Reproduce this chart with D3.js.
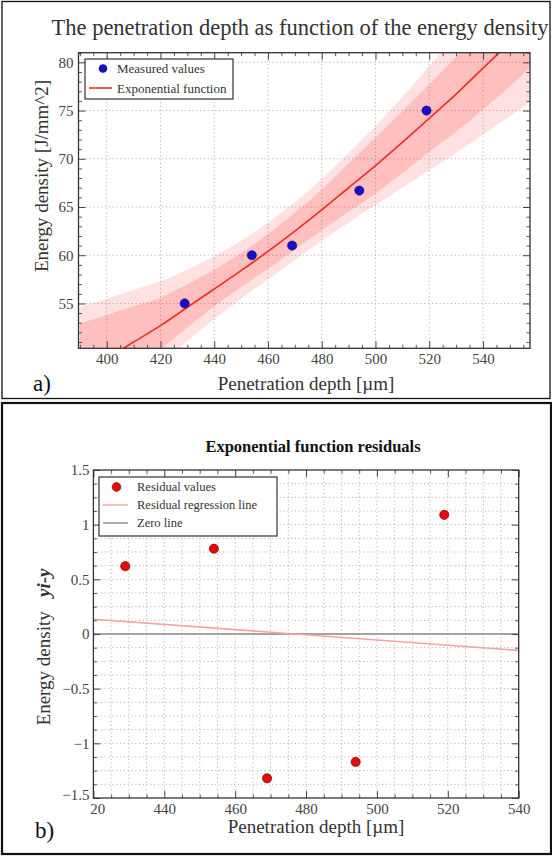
<!DOCTYPE html>
<html>
<head>
<meta charset="utf-8">
<script src="https://cdn.jsdelivr.net/npm/d3@7"></script>
<style>
  html, body { margin: 0; padding: 0; background: #fff; }
  svg { display: block; }
  text { font-family: "Liberation Serif", "Times New Roman", serif; }
</style>
</head>
<body>
<div id="chart"></div>
<script>
// ---- data ----
const measuredDepth = [429, 454, 469, 494, 519];
const measuredEnergy = [55, 60, 61, 66.7, 75];

const fitDepth = [390, 400, 410, 420, 430, 440, 450, 460, 470, 480, 490, 500, 510, 520, 530, 540, 550, 560];
const fitEnergy = [47.6, 49.3, 51.0, 52.7, 54.6, 56.5, 58.4, 60.4, 62.5, 64.7, 67.0, 69.3, 71.7, 74.2, 76.7, 79.4, 82.1, 85.0];
const innerHigh = [52.9, 53.8, 54.7, 55.6, 57.0, 58.5, 60.2, 62.2, 64.4, 66.8, 69.5, 72.2, 74.9, 77.7, 80.6, 83.7, 86.7, 89.9];
const innerLow = [42.6, 45.2, 47.8, 50.2, 52.5, 54.7, 56.7, 58.6, 60.6, 62.6, 64.5, 66.4, 68.5, 70.7, 72.8, 75.1, 77.5, 80.1];
const outerHigh = [54.6, 55.5, 56.4, 57.3, 58.5, 59.9, 61.5, 63.4, 65.5, 67.9, 70.6, 73.4, 76.4, 79.6, 82.8, 86.3, 89.8, 93.6];
const outerLow = [41.0, 43.6, 46.1, 48.6, 51.1, 53.4, 55.5, 57.5, 59.5, 61.5, 63.4, 65.2, 67.0, 68.8, 70.6, 72.5, 74.4, 76.4];

const residualDepth = [429, 454, 469, 494, 519];
const residualValue = [0.62, 0.78, -1.32, -1.17, 1.09];
const regressionDepth = [420, 540];
const regressionValue = [0.135, -0.15];
const zeroDepth = [420, 540];
const zeroValue = [0, 0];

const aXTicks = [400, 420, 440, 460, 480, 500, 520, 540];
const aYTicks = [55, 60, 65, 70, 75, 80];
const bXTicks = [420, 440, 460, 480, 500, 520, 540];
const bYTicks = [-1.5, -1, -0.5, 0, 0.5, 1, 1.5];

const W = 552, H = 856;
const svg = d3.select("#chart").append("svg")
    .attr("width", W).attr("height", H);
const defs = svg.append("defs");

// panel borders
svg.append("rect").attr("x", 2).attr("y", 1.5).attr("width", 548).attr("height", 397)
    .attr("fill", "none").attr("stroke", "#111").attr("stroke-width", 1.3);
svg.append("rect").attr("x", 2).attr("y", 403).attr("width", 549).attr("height", 451)
    .attr("fill", "none").attr("stroke", "#111").attr("stroke-width", 2.2);

function range(a, b, step) {
    const out = [];
    for (let v = a; v <= b + 1e-9; v += step) out.push(+v.toFixed(4));
    return out;
}

// dotted grid behind the data
function drawGrid(g, x, y, xGrid, yGrid) {
    const [x0, x1] = x.range();
    const [y1, y0] = y.range();
    g.selectAll(".gx").data(xGrid).enter().append("line")
        .attr("x1", d => x(d)).attr("x2", d => x(d))
        .attr("y1", y0).attr("y2", y1)
        .attr("stroke", "#ababab").attr("stroke-width", 0.9)
        .attr("stroke-dasharray", "1.2,2.6");
    g.selectAll(".gy").data(yGrid).enter().append("line")
        .attr("x1", x0).attr("x2", x1)
        .attr("y1", d => y(d)).attr("y2", d => y(d))
        .attr("stroke", "#ababab").attr("stroke-width", 0.9)
        .attr("stroke-dasharray", "1.2,2.6");
}

// frame with mirrored inward ticks (major + minor) on all four sides
function drawAxes(g, x, y, opts) {
    const [x0, x1] = x.range();
    const [y1, y0] = y.range();
    const tickCol = "#444";
    const makers = [
        () => d3.axisBottom(x), () => d3.axisTop(x),
        () => d3.axisLeft(y), () => d3.axisRight(y)
    ];
    const pos = [`translate(0,${y1})`, `translate(0,${y0})`, `translate(${x0},0)`, `translate(${x1},0)`];

    makers.forEach((mk, i) => {
        const horiz = i < 2;
        const gMaj = g.append("g").attr("transform", pos[i])
            .call(mk().tickValues(horiz ? opts.xTicks : opts.yTicks)
                .tickSize(-7).tickPadding(horiz ? 5 : opts.yPad)
                .tickFormat(opts.showLabels[i] ? (horiz ? opts.xFmt : opts.yFmt) : ""));
        gMaj.select(".domain").remove();
        gMaj.selectAll("line").attr("stroke", tickCol).attr("stroke-width", 1);
        gMaj.selectAll("text")
            .attr("font-size", opts.tickFont)
            .attr("fill", "#444");

        const gMin = g.append("g").attr("transform", pos[i])
            .call(mk().tickValues(horiz ? opts.xMinor : opts.yMinor).tickSize(-3.5).tickFormat(""));
        gMin.select(".domain").remove();
        gMin.selectAll("line").attr("stroke", tickCol).attr("stroke-width", 0.9);
    });

    g.append("rect")
        .attr("x", x0).attr("y", y0).attr("width", x1 - x0).attr("height", y1 - y0)
        .attr("fill", "none").attr("stroke", "#333").attr("stroke-width", 1.3);
}

// ================= panel a =================
const xa = d3.scaleLinear().domain([389.5, 557.5]).range([78.5, 530]);
const ya = d3.scaleLinear().domain([50.35, 81]).range([348.3, 52.7]);
const ga = svg.append("g");

defs.append("clipPath").attr("id", "clipA").append("rect")
    .attr("x", 78.5).attr("y", 52.7).attr("width", 530 - 78.5).attr("height", 348.3 - 52.7);

drawGrid(ga.append("g"), xa, ya, aXTicks, aYTicks);

const plotA = ga.append("g").attr("clip-path", "url(#clipA)");
const bandIdx = d3.range(fitDepth.length);
const areaOuter = d3.area().curve(d3.curveMonotoneX)
    .x(i => xa(fitDepth[i])).y0(i => ya(outerLow[i])).y1(i => ya(outerHigh[i]));
const areaInner = d3.area().curve(d3.curveMonotoneX)
    .x(i => xa(fitDepth[i])).y0(i => ya(innerLow[i])).y1(i => ya(innerHigh[i]));
plotA.append("path").datum(bandIdx).attr("d", areaOuter)
    .attr("fill", "#ff1a1a").attr("fill-opacity", 0.13);
plotA.append("path").datum(bandIdx).attr("d", areaInner)
    .attr("fill", "#ff1a1a").attr("fill-opacity", 0.17);
plotA.append("path").datum(bandIdx)
    .attr("d", d3.line().curve(d3.curveMonotoneX).x(i => xa(fitDepth[i])).y(i => ya(fitEnergy[i])))
    .attr("fill", "none").attr("stroke", "#e8312b").attr("stroke-width", 1.7);
plotA.selectAll(".pt").data(d3.range(measuredDepth.length)).enter().append("circle")
    .attr("cx", i => xa(measuredDepth[i])).attr("cy", i => ya(measuredEnergy[i]))
    .attr("r", 4.6).attr("fill", "#1a0fc4").attr("stroke", "#0c0780").attr("stroke-width", 0.6);

drawAxes(ga, xa, ya, {
    xTicks: aXTicks, yTicks: aYTicks,
    xMinor: range(390, 555, 5).filter(v => aXTicks.indexOf(v) < 0),
    yMinor: range(51, 81, 1).filter(v => aYTicks.indexOf(v) < 0),
    showLabels: [true, false, true, false],
    xFmt: d3.format("d"), yFmt: d3.format("d"),
    tickFont: "15px", yPad: 5
});

// legend a
const lga = ga.append("g");
lga.append("rect").attr("x", 85).attr("y", 59).attr("width", 148).attr("height", 40)
    .attr("fill", "#fff").attr("stroke", "#333").attr("stroke-width", 1.2);
lga.append("circle").attr("cx", 103).attr("cy", 68.5).attr("r", 4.3).attr("fill", "#1a0fc4");
lga.append("text").attr("x", 117).attr("y", 73).attr("font-size", "13px").attr("fill", "#333")
    .text("Measured values");
lga.append("line").attr("x1", 89).attr("x2", 112).attr("y1", 88).attr("y2", 88)
    .attr("stroke", "#e8312b").attr("stroke-width", 1.6);
lga.append("text").attr("x", 117).attr("y", 92.5).attr("font-size", "13px").attr("fill", "#333")
    .text("Exponential function");

// texts a
svg.append("text").attr("x", 300).attr("y", 35).attr("text-anchor", "middle")
    .attr("font-size", "22.5px").attr("fill", "#333")
    .text("The penetration depth as function of the energy density");
svg.append("text").attr("transform", "translate(48,176) rotate(-90)")
    .attr("text-anchor", "middle").attr("font-size", "19px").attr("fill", "#333")
    .text("Energy density [J/mm^2]");
svg.append("text").attr("x", 306).attr("y", 390).attr("text-anchor", "middle")
    .attr("font-size", "19px").attr("fill", "#333")
    .text("Penetration depth [µm]");
svg.append("text").attr("x", 33).attr("y", 391).attr("font-size", "23px").attr("fill", "#111")
    .text("a)");

// ================= panel b =================
const xb = d3.scaleLinear().domain([420, 540]).range([93.4, 518.7]);
const yb = d3.scaleLinear().domain([-1.5, 1.5]).range([798, 470]);
const gb = svg.append("g");

drawGrid(gb.append("g"), xb, yb, range(425, 535, 5), range(-1.375, 1.375, 0.125));

gb.append("line")
    .attr("x1", xb(zeroDepth[0])).attr("x2", xb(zeroDepth[1]))
    .attr("y1", yb(zeroValue[0])).attr("y2", yb(zeroValue[1]))
    .attr("stroke", "#8a8a8a").attr("stroke-width", 1.3);
gb.append("line")
    .attr("x1", xb(regressionDepth[0])).attr("x2", xb(regressionDepth[1]))
    .attr("y1", yb(regressionValue[0])).attr("y2", yb(regressionValue[1]))
    .attr("stroke", "#f2a3a3").attr("stroke-width", 1.6);

const yFmtB = d => d === 0 ? "0" : (d < 0 ? "\u2212" : "") + Math.abs(d);
drawAxes(gb, xb, yb, {
    xTicks: bXTicks, yTicks: bYTicks,
    xMinor: range(425, 535, 5).filter(v => bXTicks.indexOf(v) < 0),
    yMinor: range(-1.375, 1.375, 0.125).filter(v => bYTicks.indexOf(v) < 0),
    showLabels: [true, false, true, false],
    xFmt: d3.format("d"), yFmt: yFmtB,
    tickFont: "15px", yPad: 4
});

// the −1.5 label sits a little low and hides the "4" of 420, as in the original
const lowLabel = gb.selectAll("text").filter(function () { return this.textContent === "\u22121.5"; })
    .attr("dy", "0.1em");
lowLabel.each(function () {
    const bb = this.getBBox();
    d3.select(this.parentNode).insert("rect", "text")
        .attr("x", bb.x + bb.width - 7).attr("y", bb.y + bb.height - 2)
        .attr("width", 8).attr("height", 13).attr("fill", "#fff");
});

gb.selectAll(".res").data(d3.range(residualDepth.length)).enter().append("circle")
    .attr("cx", i => xb(residualDepth[i])).attr("cy", i => yb(residualValue[i]))
    .attr("r", 4.6).attr("fill", "#e00d0d").attr("stroke", "#8a0000").attr("stroke-width", 0.7);

// legend b
const lgb = gb.append("g");
lgb.append("rect").attr("x", 99).attr("y", 477).attr("width", 178).attr("height", 59)
    .attr("fill", "#fff").attr("stroke", "#333").attr("stroke-width", 1.2);
lgb.append("circle").attr("cx", 116.5).attr("cy", 487).attr("r", 4.4)
    .attr("fill", "#e00d0d").attr("stroke", "#8a0000").attr("stroke-width", 0.6);
lgb.append("text").attr("x", 137).attr("y", 491).attr("font-size", "12.5px").attr("fill", "#333")
    .text("Residual values");
lgb.append("line").attr("x1", 103).attr("x2", 128).attr("y1", 505).attr("y2", 505)
    .attr("stroke", "#f2a3a3").attr("stroke-width", 1.4);
lgb.append("text").attr("x", 137).attr("y", 509).attr("font-size", "12.5px").attr("fill", "#333")
    .text("Residual regression line");
lgb.append("line").attr("x1", 103).attr("x2", 128).attr("y1", 523).attr("y2", 523)
    .attr("stroke", "#8a8a8a").attr("stroke-width", 1.4);
lgb.append("text").attr("x", 137).attr("y", 527).attr("font-size", "12.5px").attr("fill", "#333")
    .text("Zero line");

// texts b
svg.append("text").attr("x", 313).attr("y", 452).attr("text-anchor", "middle")
    .attr("font-size", "16.5px").attr("font-weight", "bold").attr("fill", "#111")
    .text("Exponential function residuals");
const ylb = svg.append("text").attr("transform", "translate(50,647) rotate(-90)")
    .attr("text-anchor", "middle").attr("font-size", "19px").attr("fill", "#333");
ylb.append("tspan").text("Energy density\u00a0\u00a0\u00a0");
ylb.append("tspan").attr("font-weight", "bold").attr("font-style", "italic").text("yi-y");
svg.append("text").attr("x", 316).attr("y", 833).attr("text-anchor", "middle")
    .attr("font-size", "19px").attr("fill", "#333")
    .text("Penetration depth [µm]");
svg.append("text").attr("x", 35).attr("y", 838).attr("font-size", "23px").attr("fill", "#111")
    .text("b)");
</script>
</body>
</html>
